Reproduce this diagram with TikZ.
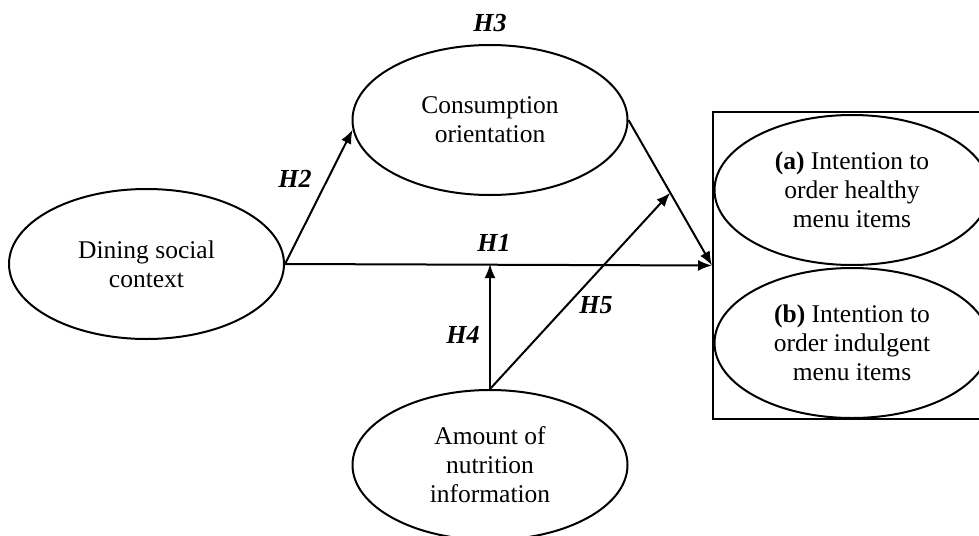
\documentclass[tikz,border=0pt]{standalone}
\usepackage{fontspec}
\setmainfont{Liberation Serif}
\usetikzlibrary{shapes.geometric,arrows.meta,calc}
\begin{document}
\begin{tikzpicture}[x=1pt,y=-1pt,
  construct/.style={draw,ellipse,line width=2pt,minimum width=275pt,minimum height=150pt,inner sep=0pt,align=center,font=\fontsize{25.5}{29}\selectfont},
  hyp/.style={font=\fontsize{26}{28}\selectfont\bfseries\itshape,inner sep=0pt},
  path/.style={line width=2pt,-{Latex[length=14pt,width=11pt]}}]
\useasboundingbox (0,0) rectangle (979,535);
\node[construct] (dining) at (146.5,264) {Dining social\\context};
\node[construct] (cons) at (490,120) {Consumption\\orientation};
\node[construct] (amount) at (490,465) {Amount of\\nutrition\\information};
\node[draw,line width=2pt,minimum width=272pt,minimum height=307pt,inner sep=0pt] (outcome) at (849,265.5) {};
\node[construct] (ya) at (852,190) {\textbf{(a)} Intention to\\order healthy\\menu items};
\node[construct] (yb) at (852,343) {\textbf{(b)} Intention to\\order indulgent\\menu items};
\coordinate (h3mid) at ($(cons.east)!0.5!(outcome.west)$);
\draw[path] (dining.east) -- (outcome.west);
\draw[path] (dining.east) -- (cons.184);
\draw[path] (cons.east) -- (outcome.west);
\draw[path] (amount.north) -- (amount.north |- dining.east);
\draw[path] (amount.north) -- (h3mid);
\node[hyp] (h1) at (494,243) {H1};
\node[hyp] (h2) at (295,179) {H2};
\node[hyp] (h3) at (490,23) {H3};
\node[hyp] (h4) at (463,335) {H4};
\node[hyp] (h5) at (596,305) {H5};
\end{tikzpicture}
\end{document}
